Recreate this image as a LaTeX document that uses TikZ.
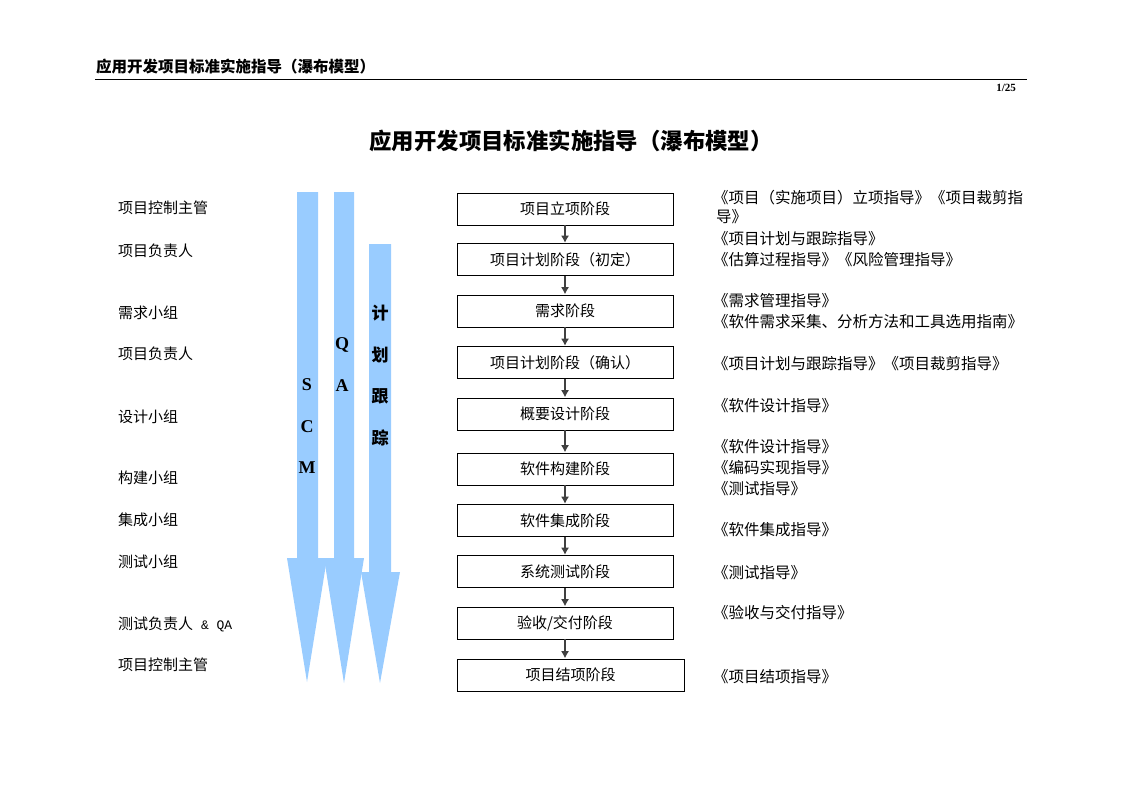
\documentclass[tikz,border=0pt]{standalone}
\usepackage{fontspec}
\setmainfont{Liberation Serif}
\newfontfamily\cjk{Noto Sans CJK SC}
\newfontfamily\monofont{Liberation Mono}
\usetikzlibrary{arrows.meta}
\definecolor{flowblue}{HTML}{99CCFF}
\definecolor{connline}{HTML}{404040}
\tikzset{
  stagebox/.style={draw=black, line width=0.8pt, minimum width=216pt, minimum height=32pt, inner sep=0pt, font=\cjk\fontsize{15}{15}\selectfont},
  role/.style={anchor=west, inner sep=0pt, font=\cjk\fontsize{15}{15}\selectfont},
  guide/.style={anchor=west, inner sep=0pt, font=\cjk\fontsize{15.5}{15.5}\selectfont},
  conn/.style={draw=connline, line width=1.2pt, -{Latex[length=7pt,width=8pt]}, shorten >=0.4pt},
  arrowletter/.style={inner sep=0pt, font=\bfseries\fontsize{18}{18}\selectfont},
  arrowcjk/.style={inner sep=0pt, font=\cjk\bfseries\fontsize{17}{17}\selectfont},
  bigarrow/.style={fill=flowblue, draw=none}
}
\begin{document}
\begin{tikzpicture}[x=1pt,y=-1pt]
\useasboundingbox (0,0) rectangle (1122,793);
\fill[white] (0,0) rectangle (1122,793);

% header
\node[anchor=west, inner sep=0pt, font=\cjk\bfseries\fontsize{15.5}{15.5}\selectfont] (hdr) at (96,67) {应用开发项目标准实施指导（瀑布模型）};
\draw[line width=1pt] (95,79) -- (1027,79);
\node[anchor=east, inner sep=0pt, font=\bfseries\fontsize{11}{11}\selectfont] (pg) at (1016,88) {1/25};

% title
\node[inner sep=0pt, font=\cjk\bfseries\fontsize{22.4}{22.4}\selectfont] (title) at (571,141) {应用开发项目标准实施指导（瀑布模型）};

% big arrows
\fill[bigarrow] (297,192) -- (318,192) -- (318,558) -- (327,558) -- (307,682) -- (287,558) -- (297,558) -- cycle;
\fill[bigarrow] (334,192) -- (354,192) -- (354,558) -- (364,558) -- (344,683) -- (324,558) -- (334,558) -- cycle;
\fill[bigarrow] (369,244) -- (391,244) -- (391,572) -- (400,572) -- (380,683) -- (361,572) -- (369,572) -- cycle;

\node[arrowletter] (s1) at (307,385) {S};
\node[arrowletter] (s2) at (307,427) {C};
\node[arrowletter] (s3) at (307,468) {M};
\node[arrowletter] (q1) at (342,345) {Q};
\node[arrowletter] (q2) at (342,386) {A};
\node[arrowcjk] (p1) at (380,313) {计};
\node[arrowcjk] (p2) at (380,355) {划};
\node[arrowcjk] (p3) at (380,396) {跟};
\node[arrowcjk] (p4) at (380,438) {踪};

% stages
\node[stagebox] (b1) at (565,209) {项目立项阶段};
\node[stagebox] (b2) at (565,259.5) {项目计划阶段（初定）};
\node[stagebox] (b3) at (565,311) {需求阶段};
\node[stagebox] (b4) at (565,362.5) {项目计划阶段（确认）};
\node[stagebox] (b5) at (565,414) {概要设计阶段};
\node[stagebox] (b6) at (565,469) {软件构建阶段};
\node[stagebox] (b7) at (565,520.5) {软件集成阶段};
\node[stagebox] (b8) at (565,571.5) {系统测试阶段};
\node[stagebox] (b9) at (565,623) {验收/交付阶段};
\node[stagebox, minimum width=227pt] (b10) at (570.5,675) {项目结项阶段};

\draw[conn] (b1.south) -- (b2.north);
\draw[conn] (b2.south) -- (b3.north);
\draw[conn] (b3.south) -- (b4.north);
\draw[conn] (b4.south) -- (b5.north);
\draw[conn] (b5.south) -- (b6.north);
\draw[conn] (b6.south) -- (b7.north);
\draw[conn] (b7.south) -- (b8.north);
\draw[conn] (b8.south) -- (b9.north);
\draw[conn] (b9.south) -- (b9.south |- b10.north);

% roles
\node[role] (r1) at (118,208) {项目控制主管};
\node[role] (r2) at (118,251) {项目负责人};
\node[role] (r3) at (118,313) {需求小组};
\node[role] (r4) at (118,354) {项目负责人};
\node[role] (r5) at (118,417) {设计小组};
\node[role] (r6) at (118,478) {构建小组};
\node[role] (r7) at (118,520) {集成小组};
\node[role] (r8) at (118,562) {测试小组};
\node[role] (r9) at (118,624) {测试负责人{\monofont\fontsize{13}{13}\selectfont{} \& QA}};
\node[role] (r10) at (118,665) {项目控制主管};

% guides
\node[guide] (g1) at (713,198) {《项目（实施项目）立项指导》《项目裁剪指};
\node[guide] (g1b) at (716,217) {导》};
\node[guide] (g2) at (713,239) {《项目计划与跟踪指导》};
\node[guide] (g3) at (713,260) {《估算过程指导》《风险管理指导》};
\node[guide] (g4) at (713,301) {《需求管理指导》};
\node[guide] (g5) at (713,322) {《软件需求采集、分析方法和工具选用指南》};
\node[guide] (g6) at (713,364) {《项目计划与跟踪指导》《项目裁剪指导》};
\node[guide] (g7) at (713,406) {《软件设计指导》};
\node[guide] (g8) at (713,447) {《软件设计指导》};
\node[guide] (g9) at (713,468) {《编码实现指导》};
\node[guide] (g10) at (713,489) {《测试指导》};
\node[guide] (g11) at (713,530) {《软件集成指导》};
\node[guide] (g12) at (713,573) {《测试指导》};
\node[guide] (g13) at (713,613) {《验收与交付指导》};
\node[guide] (g14) at (713,677) {《项目结项指导》};
\end{tikzpicture}
\end{document}
